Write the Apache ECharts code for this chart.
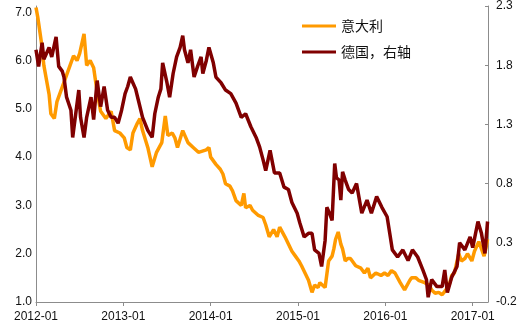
<!DOCTYPE html>
<html><head><meta charset="utf-8">
<script src="https://cdn.jsdelivr.net/npm/echarts@6/dist/echarts.min.js"></script>
<style>html,body{margin:0;padding:0;background:#fff}#c{width:525px;height:324px}</style>
</head><body><div id="c"></div>
<script>
// time in decimal years
var italyT = [2012.00,2012.02,2012.06,2012.09,2012.13,2012.15,2012.17,2012.21,2012.24,2012.27,
 2012.32,2012.35,2012.39,2012.43,2012.47,2012.50,2012.55,2012.58,2012.62,2012.66,
 2012.70,2012.74,2012.80,2012.86,2012.90,2012.96,2013.01,2013.04,2013.08,2013.11,
 2013.16,2013.19,2013.22,2013.28,2013.33,2013.38,2013.44,2013.48,2013.51,2013.56,
 2013.59,2013.62,2013.68,2013.74,2013.80,2013.86,2013.95,2013.98,2014.00,2014.06,
 2014.11,2014.14,2014.17,2014.22,2014.25,2014.29,2014.35,2014.38,2014.40,2014.45,
 2014.48,2014.54,2014.60,2014.63,2014.67,2014.72,2014.76,2014.79,2014.85,2014.89,
 2014.93,2014.97,2015.01,2015.04,2015.08,2015.12,2015.16,2015.19,2015.23,2015.25,
 2015.31,2015.35,2015.39,2015.41,2015.43,2015.46,2015.49,2015.51,2015.54,2015.57,
 2015.60,2015.66,2015.72,2015.76,2015.80,2015.83,2015.89,2015.95,2015.99,2016.03,
 2016.07,2016.11,2016.17,2016.22,2016.28,2016.30,2016.35,2016.38,2016.45,2016.50,
 2016.53,2016.57,2016.61,2016.65,2016.68,2016.73,2016.76,2016.79,2016.84,2016.87,
 2016.91,2016.94,2016.99,2017.02,2017.07,2017.10,2017.13,2017.15,2017.17];
var italyV = [7.1,6.9,6.4,5.9,5.5,5.3,4.9,4.8,5.15,5.3,
 5.55,5.7,5.9,6.1,6.0,6.15,6.55,5.9,6.0,5.85,
 5.35,4.95,4.8,4.95,4.55,4.5,4.4,4.2,4.15,4.5,
 4.7,4.8,4.55,4.2,3.8,4.1,4.3,4.85,4.45,4.5,
 4.4,4.2,4.55,4.3,4.2,4.1,4.15,4.2,4.0,3.85,
 3.75,3.65,3.45,3.4,3.3,3.1,3.0,3.25,2.95,3.0,
 2.9,2.8,2.75,2.6,2.35,2.5,2.35,2.55,2.35,2.2,
 2.05,1.95,1.85,1.75,1.6,1.45,1.2,1.35,1.3,1.4,
 1.3,1.85,1.95,2.1,2.3,2.45,2.2,2.1,1.85,1.9,
 1.9,1.75,1.7,1.6,1.7,1.5,1.6,1.55,1.6,1.55,
 1.65,1.6,1.4,1.25,1.45,1.5,1.5,1.45,1.4,1.35,
 1.25,1.18,1.2,1.15,1.22,1.35,1.55,1.6,2.0,1.85,
 1.9,2.0,1.85,2.05,2.25,2.1,1.95,2.1,2.3];
var germanyT = [2012.00,2012.03,2012.07,2012.09,2012.11,2012.15,2012.18,2012.23,2012.26,2012.30,
 2012.32,2012.35,2012.40,2012.42,2012.46,2012.49,2012.51,2012.55,2012.58,2012.63,
 2012.66,2012.70,2012.74,2012.78,2012.82,2012.86,2012.90,2012.94,2012.98,2013.02,
 2013.05,2013.08,2013.11,2013.14,2013.17,2013.22,2013.28,2013.33,2013.36,2013.40,
 2013.43,2013.45,2013.50,2013.53,2013.57,2013.61,2013.65,2013.68,2013.70,2013.74,
 2013.77,2013.81,2013.85,2013.89,2013.91,2013.95,2013.98,2014.03,2014.06,2014.12,
 2014.17,2014.23,2014.29,2014.35,2014.40,2014.46,2014.52,2014.56,2014.60,2014.63,
 2014.68,2014.73,2014.79,2014.84,2014.89,2014.93,2014.99,2015.02,2015.07,2015.12,
 2015.16,2015.19,2015.24,2015.27,2015.31,2015.33,2015.36,2015.39,2015.42,2015.44,
 2015.47,2015.49,2015.51,2015.54,2015.58,2015.62,2015.67,2015.73,2015.79,2015.84,
 2015.90,2015.96,2016.02,2016.05,2016.08,2016.14,2016.20,2016.26,2016.31,2016.37,
 2016.43,2016.47,2016.49,2016.53,2016.59,2016.65,2016.68,2016.71,2016.76,2016.82,
 2016.85,2016.91,2016.97,2017.00,2017.06,2017.10,2017.14,2017.17];
var germanyV = [1.93,1.79,1.99,1.85,1.84,1.95,1.87,2.04,1.79,1.75,
 1.7,1.53,1.42,1.19,1.42,1.59,1.36,1.19,1.36,1.53,
 1.34,1.67,1.45,1.62,1.42,1.36,1.36,1.31,1.42,1.56,
 1.62,1.7,1.65,1.6,1.51,1.36,1.25,1.19,1.39,1.53,
 1.6,1.82,1.65,1.53,1.73,1.87,1.95,2.05,1.93,1.82,
 1.93,1.7,1.79,1.87,1.73,1.84,1.95,1.82,1.7,1.65,
 1.59,1.56,1.48,1.36,1.39,1.28,1.19,1.11,1.0,0.91,
 1.08,0.89,0.89,0.77,0.75,0.64,0.55,0.47,0.35,0.38,
 0.38,0.24,0.21,0.1,0.32,0.6,0.55,0.49,0.97,0.85,
 0.83,0.66,0.9,0.83,0.75,0.72,0.8,0.55,0.66,0.55,
 0.69,0.6,0.52,0.38,0.24,0.18,0.24,0.15,0.24,0.18,
 0.07,-0.01,-0.16,-0.01,-0.07,-0.07,0.07,-0.12,0.01,0.1,
 0.3,0.24,0.35,0.26,0.48,0.38,0.21,0.48];
var xTickYears = [2012,2013,2014,2015,2016,2017];
var leftTicks = [1,2,3,4,5,6,7];
var seriesNames = ['意大利','德国，右轴'];

function zip(t, v){ return t.map(function(x,i){ return [x, v[i]]; }); }
var axisColor = '#8c8c8c';
var labelStyle = {color:'#111', fontSize:12, fontFamily:'Liberation Sans, Arial, sans-serif'};

var chart = echarts.init(document.getElementById('c'), null, {renderer:'canvas'});
chart.setOption({
  animation:false,
  grid:{left:36, right:37, top:5, bottom:22, containLabel:false},
  legend:{
    orient:'vertical', left:297, top:14, itemWidth:34, itemHeight:3, itemGap:12,
    icon:'rect',
    textStyle:{color:'#111', fontSize:14, fontFamily:'Noto Sans CJK SC, sans-serif'},
    data:seriesNames
  },
  xAxis:{
    type:'value', min:2012, max:2017.175,
    axisLine:{show:true, onZero:false, lineStyle:{color:axisColor, width:1}},
    axisTick:{show:true, customValues:xTickYears, length:4, lineStyle:{color:axisColor}},
    axisLabel:Object.assign({customValues:xTickYears, margin:9, formatter:function(v){return Math.round(v)+'-01';}}, labelStyle),
    splitLine:{show:false}
  },
  yAxis:[{
    type:'value', min:1, max:7.13, position:'left',
    axisLine:{show:true, lineStyle:{color:axisColor}},
    axisTick:{show:false},
    axisLabel:Object.assign({customValues:leftTicks, margin:4, formatter:function(v){return v.toFixed(1);}}, labelStyle),
    splitLine:{show:false}
  },{
    type:'value', min:-0.2, max:2.3, interval:0.5, position:'right',
    axisLine:{show:true, lineStyle:{color:axisColor}},
    axisTick:{show:true, inside:true, length:3, lineStyle:{color:axisColor}},
    axisLabel:Object.assign({margin:8, formatter:function(v){return (Math.round(v*10)/10).toFixed(1);}}, labelStyle),
    splitLine:{show:false}
  }],
  series:[{
    name:seriesNames[0], type:'line', yAxisIndex:0, showSymbol:false, symbol:'none',
    lineStyle:{color:'#FF9A00', width:3.5}, itemStyle:{color:'#FF9A00'},
    data:zip(italyT, italyV)
  },{
    name:seriesNames[1], type:'line', yAxisIndex:1, showSymbol:false, symbol:'none',
    lineStyle:{color:'#800000', width:3.5}, itemStyle:{color:'#800000'},
    data:zip(germanyT, germanyV)
  }]
});
</script></body></html>
